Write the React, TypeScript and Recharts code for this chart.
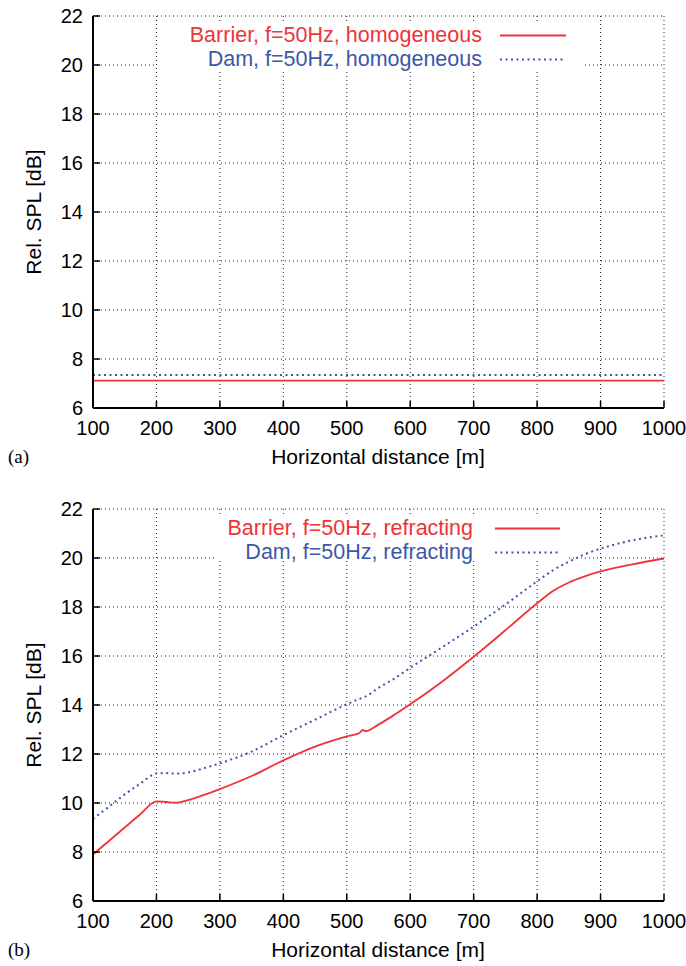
import React from 'react';
import { LineChart, Line, XAxis, YAxis, CartesianGrid, Legend } from 'recharts';

// tick values
const distTicks = [100, 200, 300, 400, 500, 600, 700, 800, 900, 1000];
const splTicks = [6, 8, 10, 12, 14, 16, 18, 20, 22];

// (a) homogeneous atmosphere
const homDist = [100, 1000];
const homBarrier = [7.12, 7.12];
const homDam = [7.35, 7.35];

// (b) refracting atmosphere
const refDist = [100, 125, 150, 175, 200, 215, 230, 250, 275, 300, 350, 400, 450, 500, 520, 525, 530, 550, 575, 600, 650, 700, 750, 800, 825, 850, 875, 900, 950, 1000];
const refBarrier = [7.9, 8.45, 9.0, 9.55, 10.07, 10.04, 10.01, 10.12, 10.33, 10.57, 11.1, 11.74, 12.3, 12.72, 12.86, 12.98, 12.93, 13.2, 13.6, 14.03, 14.95, 15.97, 17.05, 18.15, 18.65, 19.0, 19.25, 19.45, 19.74, 19.98];
const refDam = [9.35, 9.85, 10.35, 10.8, 11.2, 11.22, 11.2, 11.25, 11.42, 11.62, 12.1, 12.77, 13.4, 14.03, 14.25, 14.3, 14.35, 14.7, 15.08, 15.52, 16.35, 17.2, 18.1, 19.05, 19.5, 19.85, 20.15, 20.38, 20.72, 20.92];

const RED = '#ee3339';
const BLUE = '#3d57a8';
const FONT = '"Liberation Sans", Arial, Helvetica, sans-serif';

const tickStyle = { fill: '#000', fontSize: 20, fontFamily: FONT };

interface KeyBox { left: number; width: number; height: number; textRight: number; lineStart: number; lineEnd: number; }

interface PanelProps {
  top: number;
  letter: string;
  dist: number[];
  barrier: number[];
  dam: number[];
  barrierName: string;
  damName: string;
  smooth: boolean;
  keyBox: KeyBox;
}

function Panel({ top, letter, dist, barrier, dam, barrierName, damName, smooth, keyBox }: PanelProps) {
  const rows = dist.map((d, i) => ({ d, barrier: barrier[i], dam: dam[i] }));
  const series = [
    { name: barrierName, color: RED, dash: undefined as string | undefined },
    { name: damName, color: BLUE, dash: '2 3.5' },
  ];
  return (
    <div style={{ position: 'absolute', left: 0, top, width: 686, height: 480 }}>
      <LineChart width={686} height={440} data={rows} margin={{ top: 16, right: 22, bottom: 0, left: 0 }}>
        <CartesianGrid stroke="#222" strokeDasharray="1 3" strokeWidth={1} />
        <XAxis dataKey="d" type="number" domain={[100, 1000]} ticks={distTicks} allowDataOverflow
          height={32} tick={tickStyle} tickSize={-7} tickMargin={20} interval={0}
          axisLine={{ stroke: '#000', strokeWidth: 2 }} tickLine={{ stroke: '#000', strokeWidth: 1.5 }} />
        <XAxis xAxisId="t" orientation="top" dataKey="d" type="number" domain={[100, 1000]} ticks={distTicks}
          height={0} tick={false} tickSize={-7}
          axisLine={{ stroke: '#000', strokeWidth: 2 }} tickLine={{ stroke: '#000', strokeWidth: 1.5 }} />
        <YAxis type="number" domain={[6, 22]} ticks={splTicks} allowDataOverflow width={93}
          tick={tickStyle} tickSize={-7} tickMargin={17} interval={0}
          axisLine={{ stroke: '#000', strokeWidth: 2 }} tickLine={{ stroke: '#000', strokeWidth: 1.5 }} />
        <YAxis yAxisId="r" orientation="right" type="number" domain={[6, 22]} ticks={splTicks} width={0}
          tick={false} tickSize={-7}
          axisLine={{ stroke: '#000', strokeWidth: 2 }} tickLine={{ stroke: '#000', strokeWidth: 1.5 }} />
        <Line dataKey="barrier" name={barrierName} type={smooth ? 'monotone' : 'linear'} stroke={RED}
          strokeWidth={1.8} dot={false} isAnimationActive={false} />
        <Line dataKey="dam" name={damName} type={smooth ? 'monotone' : 'linear'} stroke={BLUE}
          strokeWidth={2} strokeDasharray="2 3.5" dot={false} isAnimationActive={false} />
        <Legend layout="vertical" align="center" verticalAlign="middle"
          wrapperStyle={{ left: keyBox.left, top: 23.5, width: keyBox.width, height: keyBox.height, background: '#fff' }}
          content={() => (
            <div style={{ position: 'relative', width: keyBox.width, height: keyBox.height }}>
              {series.map((s, i) => (
                <div key={s.name} style={{ position: 'absolute', left: 0, top: -1 + i * 24.5, width: keyBox.width, height: 25 }}>
                  <div style={{ position: 'absolute', left: 0, top: 0, width: keyBox.textRight, textAlign: 'right', whiteSpace: 'nowrap',
                    color: s.color, fontFamily: FONT, fontSize: 21.5, lineHeight: '25px' }}>
                    {s.name}
                  </div>
                  <svg width={keyBox.lineEnd - keyBox.lineStart + 4} height={25}
                    style={{ position: 'absolute', left: keyBox.lineStart - 2, top: 0 }}>
                    <line x1={2} x2={keyBox.lineEnd - keyBox.lineStart + 2} y1={12.5} y2={12.5}
                      stroke={s.color} strokeWidth={2} strokeDasharray={s.dash} />
                  </svg>
                </div>
              ))}
            </div>
          )}
        />
      </LineChart>
      <div style={{ position: 'absolute', left: 34, top: 212, transform: 'translate(-50%, -50%) rotate(-90deg)',
        whiteSpace: 'nowrap', fontFamily: FONT, fontSize: 21, color: '#000' }}>
        Rel. SPL [dB]
      </div>
      <div style={{ position: 'absolute', left: 378, top: 457, transform: 'translate(-50%, -50%)',
        whiteSpace: 'nowrap', fontFamily: FONT, fontSize: 21, color: '#000' }}>
        Horizontal distance [m]
      </div>
      <div style={{ position: 'absolute', left: 8, top: 457, transform: 'translateY(-50%)',
        fontFamily: '"Liberation Serif", "Times New Roman", serif', fontSize: 19, color: '#000' }}>
        ({letter})
      </div>
    </div>
  );
}

export default function App() {
  return (
    <div style={{ position: 'absolute', left: 0, top: 0, width: 686, height: 966, background: '#fff' }}>
      <Panel top={0} letter="a" dist={homDist} barrier={homBarrier} dam={homDam}
        barrierName="Barrier, f=50Hz, homogeneous" damName="Dam, f=50Hz, homogeneous" smooth={false}
        keyBox={{ left: 157, width: 428, height: 47, textRight: 325, lineStart: 343, lineEnd: 409 }} />
      <Panel top={493} letter="b" dist={refDist} barrier={refBarrier} dam={refDam}
        barrierName="Barrier, f=50Hz, refracting" damName="Dam, f=50Hz, refracting" smooth
        keyBox={{ left: 217, width: 351, height: 42, textRight: 256, lineStart: 278, lineEnd: 343 }} />
    </div>
  );
}
